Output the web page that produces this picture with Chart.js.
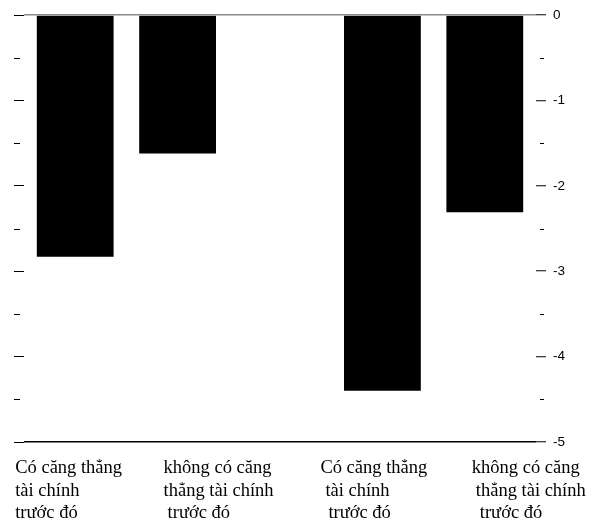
<!DOCTYPE html>
<html>
<head>
<meta charset="utf-8">
<script src="https://cdn.jsdelivr.net/npm/chart.js@4"></script>
<style>
  html, body { margin: 0; padding: 0; background: #fff; }
  #wrap { width: 594px; height: 520px; }
</style>
</head>
<body>
<div id="wrap"><canvas id="chart"></canvas></div>
<script>
const categories = [
  ["Có căng thẳng", "tài chính", "trước đó"],
  ["không có căng", "thẳng tài chính", "trước đó"],
  "",
  ["Có căng thẳng", "tài chính", "trước đó"],
  ["không có căng", "thẳng tài chính", "trước đó"],
];
const values = [-2.83, -1.62, null, -4.40, -2.31];
const yMin = -5;
const yMax = 0;
const minorTicks = [-0.5, -1.5, -2.5, -3.5, -4.5];

// where each label line starts, relative to its bar centre (left-aligned text)
const lineShift = [
  [-60, -60, -60],
  [-14, -14, -10],
  [0, 0, 0],
  [-62, -57, -54],
  [-13, -9, -5],
];
const lineBaseline = [31, 53.5, 76];

// short half-unit tick marks on both sides
const minorTickPlugin = {
  id: "minorTicks",
  afterDraw(chart) {
    const y = chart.scales.y;
    const area = chart.chartArea;
    const c = chart.ctx;
    c.save();
    c.strokeStyle = "#000";
    c.lineWidth = 1;
    c.beginPath();
    minorTicks.forEach((v) => {
      const py = Math.round(y.getPixelForValue(v)) + 0.5;
      c.moveTo(area.left - 10, py);
      c.lineTo(area.left - 4, py);
      c.moveTo(area.right + 4, py);
      c.lineTo(area.right + 8, py);
    });
    c.stroke();
    c.restore();
  },
};

// category labels, left-aligned block under each bar
const categoryLabelPlugin = {
  id: "categoryLabels",
  afterDraw(chart) {
    const x = chart.scales.x;
    const c = chart.ctx;
    c.save();
    c.fillStyle = "#000";
    c.font = "18.5px 'Liberation Serif', serif";
    c.textAlign = "left";
    c.textBaseline = "alphabetic";
    chart.data.labels.forEach((label, i) => {
      if (!Array.isArray(label)) return;
      const cx = x.getPixelForTick(i);
      label.forEach((line, j) => {
        c.fillText(line, cx + lineShift[i][j], x.top + lineBaseline[j]);
      });
    });
    c.restore();
  },
};

new Chart(document.getElementById("chart"), {
  type: "bar",
  data: {
    labels: categories,
    datasets: [
      {
        data: values,
        backgroundColor: "#000",
        borderWidth: 0,
        barPercentage: 0.75,
        categoryPercentage: 1,
        yAxisID: "y",
      },
    ],
  },
  options: {
    responsive: true,
    maintainAspectRatio: false,
    animation: false,
    layout: { padding: { top: 15, left: 0, right: 0, bottom: 0 } },
    plugins: { legend: { display: false }, tooltip: { enabled: false } },
    scales: {
      x: {
        grid: { display: false, drawTicks: false },
        border: { display: false },
        ticks: { display: false },
        afterFit: (s) => {
          s.height = 78;
          s.paddingLeft = 0;
          s.paddingRight = 0;
        },
      },
      y: {
        position: "right",
        min: yMin,
        max: yMax,
        border: { display: false },
        grid: {
          z: 1,
          color: (ctx) => ctx.tick.value === 0 ? "#8a8a8a" : ctx.tick.value === yMin ? "#000" : "rgba(0,0,0,0)",
          lineWidth: 1.5,
          tickColor: "#000",
          tickLength: 10,
          tickWidth: 1,
        },
        ticks: {
          stepSize: 1,
          padding: 7,
          color: "#000",
          font: { family: "'Liberation Sans', Arial, sans-serif", size: 13.5 },
        },
        afterFit: (s) => { s.width = 58; },
      },
      yLeft: {
        position: "left",
        min: yMin,
        max: yMax,
        border: { display: false },
        grid: {
          drawOnChartArea: false,
          tickColor: "#000",
          tickLength: 10,
          tickWidth: 1,
        },
        ticks: { stepSize: 1, display: false },
        afterFit: (s) => { s.width = 24; },
      },
    },
  },
  plugins: [minorTickPlugin, categoryLabelPlugin],
});
</script>
</body>
</html>
